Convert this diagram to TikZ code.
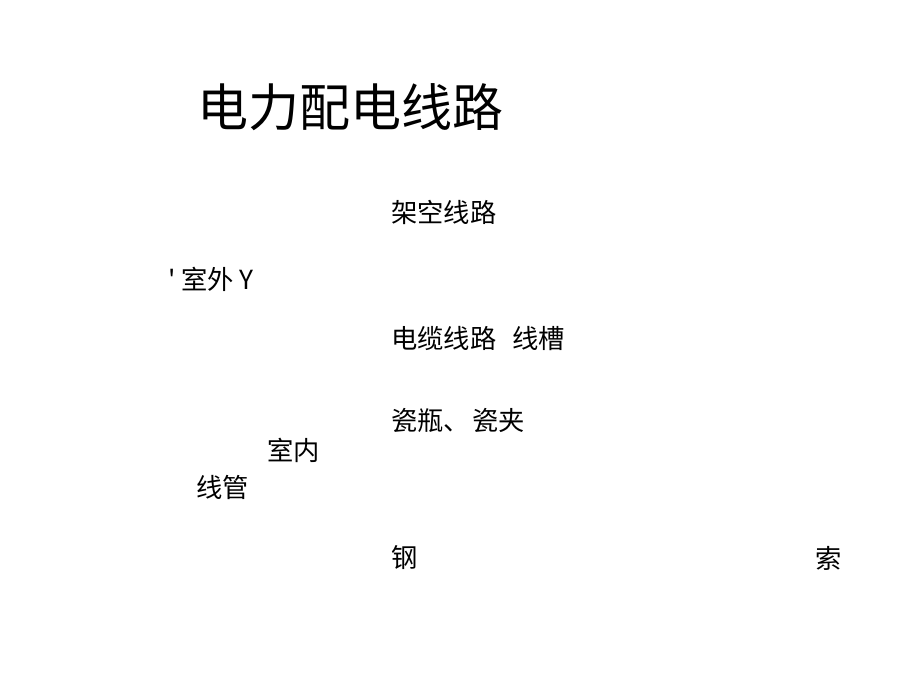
\documentclass[tikz,border=0pt]{standalone}
\usepackage{fontspec}
\newfontfamily\cjk{Noto Sans CJK SC}
\tikzset{
  lbl/.style={anchor=west, inner sep=0pt, font=\cjk\fontsize{26.3}{31}\selectfont},
  ttl/.style={anchor=west, inner sep=0pt, font=\cjk\fontsize{51}{61}\selectfont}
}
\begin{document}
\begin{tikzpicture}[x=1pt,y=-1pt]
\useasboundingbox[fill=white] (0,0) rectangle (920,690);
\node[ttl] (title) at (197,107) {电力配电线路};
\node[lbl] (jk) at (391,212) {架空线路};
\node[lbl] (sw) at (168,279) {' 室外 Y};
\node[lbl] (dl) at (391,339) {电缆线路\hspace{16pt}线槽};
\node[lbl] (cp) at (391,420) {瓷瓶、\hspace{2pt}瓷夹};
\node[lbl] (sn) at (267,450) {室内};
\node[lbl] (xg) at (196,487) {线管};
\node[lbl] (gang) at (391,558) {钢};
\node[lbl] (suo) at (815,558) {索};
\end{tikzpicture}
\end{document}
